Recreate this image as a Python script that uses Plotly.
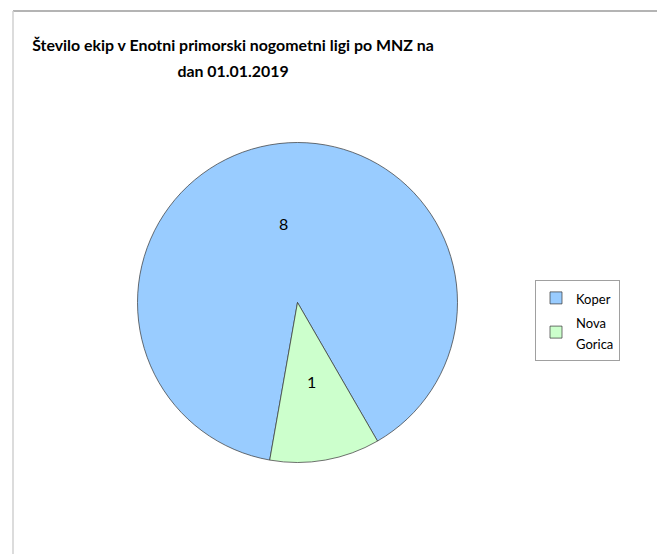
import math
import plotly.graph_objects as go

labels = ["Koper", "Nova Gorica"]
values = [8, 1]
colors = ["#99CCFF", "#CCFFCC"]
legend_text = ["Koper", "Nova<br>Gorica"]

FONT = "Lato, 'Open Sans', sans-serif"
# page body has an 8px margin, so the figure is a bit smaller than the window
W, H = 657, 546
OFF = 8

# pie placement (pixels in the reference picture)
CX, CY, R = 297.5 - OFF, 302.5 - OFF, 160
ROT = 190

dom_x = [(CX - R) / W, (CX + R) / W]
dom_y = [1 - (CY + R) / H, 1 - (CY - R) / H]

fig = go.Figure()
fig.add_trace(go.Pie(
    labels=["<span style='font-size:13px'>%s</span>" % t for t in legend_text],
    values=values,
    sort=False,
    direction="clockwise",
    rotation=ROT,
    marker=dict(colors=colors, line=dict(color="#333333", width=0.7)),
    textinfo="none",
    domain=dict(x=dom_x, y=dom_y),
    hoverinfo="label+value",
))

# value labels, Excel-style at about half the radius in the middle of each slice
total = sum(values)
cum = 0
annotations = []
for v in values:
    ang = math.radians(ROT + (cum + v / 2) / total * 360)
    cum += v
    px = CX + 0.5 * R * math.sin(ang)
    py = CY - 0.5 * R * math.cos(ang)
    annotations.append(dict(
        x=px / W, y=1 - py / H, xref="paper", yref="paper",
        xanchor="center", yanchor="middle",
        text=str(v), showarrow=False,
        font=dict(size=16, family=FONT, color="black"),
    ))

fig.update_layout(
    width=W,
    height=H,
    margin=dict(l=0, r=0, t=0, b=0),
    paper_bgcolor="white",
    font=dict(family=FONT, color="black"),
    title=dict(
        text="<b><span style='font-size:15.9px'>Število ekip v Enotni primorski nogometni ligi po MNZ na"
             "<br>dan 01.01.2019</span></b>",
        x=(233 - OFF) / W, xanchor="center",
        y=1 - (51 - OFF) / H, yanchor="top",
        font=dict(size=20, family=FONT, color="black"),
    ),
    legend=dict(
        x=(535 - OFF) / W, y=1 - (280 - OFF) / H, xanchor="left", yanchor="top",
        bordercolor="#a0a0a0", borderwidth=1,
        font=dict(size=16, family=FONT),
        itemwidth=30,
    ),
    annotations=annotations,
    shapes=[
        dict(type="line", xref="paper", yref="paper",
             x0=(13 - OFF) / W, x1=1, y0=1 - (11 - OFF) / H, y1=1 - (11 - OFF) / H,
             line=dict(color="#6b6b6b", width=1.2)),
        dict(type="line", xref="paper", yref="paper",
             x0=(13 - OFF) / W, x1=(13 - OFF) / W, y0=0, y1=1 - (11 - OFF) / H,
             line=dict(color="#d0d0d0", width=1.5)),
    ],
)

fig.write_html("out.html")
